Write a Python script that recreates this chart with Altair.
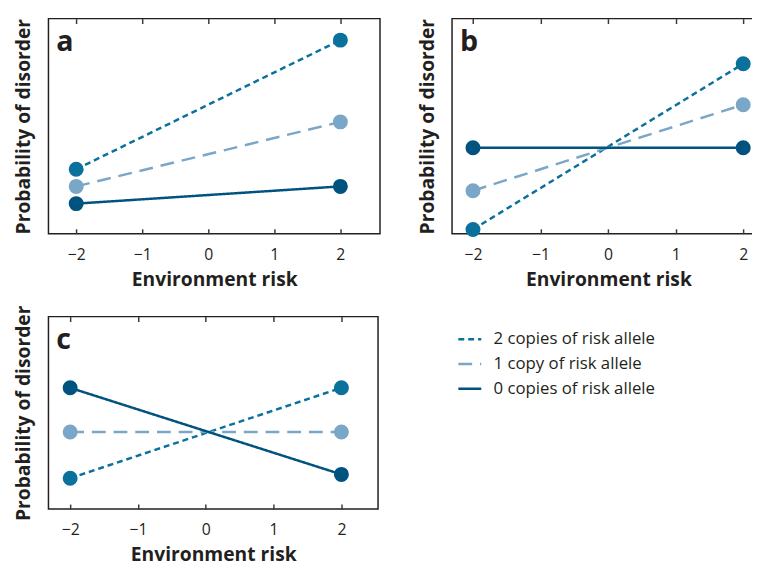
import altair as alt
import pandas as pd

# ---- data ----
alleles = ["2 copies of risk allele", "1 copy of risk allele", "0 copies of risk allele"]
env_risk = [-2, 2]
tick_values = [-2, -1, 0, 1, 2]

a_two = [0.30, 0.90]
a_one = [0.22, 0.52]
a_zero = [0.14, 0.22]

b_two = [0.02, 0.79]
b_one = [0.20, 0.60]
b_zero = [0.40, 0.40]

c_two = [0.16, 0.63]
c_one = [0.40, 0.40]
c_zero = [0.63, 0.18]

colors = ["#0a719c", "#7aa6c8", "#00527f"]
dashes = [[6, 4], [14, 8], [1, 0]]

FONT = "Open Sans"
INK = "#231f20"


def make_df(two, one, zero):
    rows = []
    for name, vals in zip(alleles, [two, one, zero]):
        for xv, yv in zip(env_risk, vals):
            rows.append({"allele": name, "env": xv, "p": yv})
    return pd.DataFrame(rows)


def panel(letter, two, one, zero, xdomain, width, height, show_legend=False):
    df = make_df(two, one, zero)
    xscale = alt.Scale(domain=xdomain, nice=False, zero=False)
    yscale = alt.Scale(domain=[0, 1], nice=False, zero=False)
    if show_legend:
        legend = alt.Legend(
            title=None, orient="none", legendX=414, legendY=10,
            symbolType="stroke", symbolSize=540, symbolStrokeWidth=2.5,
            labelFont=FONT, labelFontSize=17, labelColor=INK, labelLimit=400,
            labelOffset=11, rowPadding=4, padding=0,
        )
    else:
        legend = None
    color = alt.Color("allele:N", sort=alleles,
                      scale=alt.Scale(domain=alleles, range=colors), legend=legend)
    dash = alt.StrokeDash("allele:N", sort=alleles,
                          scale=alt.Scale(domain=alleles, range=dashes), legend=legend)
    lines = alt.Chart(df).mark_line(strokeWidth=2.5).encode(
        x=alt.X("env:Q", scale=xscale,
                axis=alt.Axis(orient="bottom", values=tick_values, offset=-5, tickSize=5,
                              domain=False, grid=False, labelPadding=13,
                              title="Environment risk", titlePadding=8)),
        y=alt.Y("p:Q", scale=yscale,
                axis=alt.Axis(title="Probability of disorder", labels=False, ticks=False,
                              domain=False, grid=False, titlePadding=15)),
        color=color,
        strokeDash=dash,
        detail="allele:N",
    )
    points = alt.Chart(df).mark_circle(size=230, opacity=1).encode(
        x=alt.X("env:Q", scale=xscale,
                axis=alt.Axis(orient="top", values=tick_values, offset=-5, tickSize=5,
                              labels=False, domain=False, grid=False, title=None)),
        y=alt.Y("p:Q", scale=yscale, axis=None),
        color=alt.Color("allele:N", sort=alleles,
                        scale=alt.Scale(domain=alleles, range=colors), legend=None),
    )
    label = alt.Chart(pd.DataFrame({"t": [letter]})).mark_text(
        font=FONT, fontSize=29, fontWeight="bold", color=INK,
        align="left", baseline="alphabetic",
    ).encode(text="t:N", x=alt.value(8), y=alt.value(33))
    return (
        alt.layer(lines, points, label)
        .resolve_axis(x="independent", y="independent")
        .properties(width=width, height=height)
    )


pa = panel("a", a_two, a_one, a_zero, [-2.42, 2.6], 336, 218)
pb = panel("b", b_two, b_one, b_zero, [-2.31, 2.32], 317, 218)
pc = panel("c", c_two, c_one, c_zero, [-2.32, 2.54], 334, 195, show_legend=True)

top = alt.hconcat(pa, pb, spacing=36)
chart = (
    alt.vconcat(top, pc, spacing=14)
    .resolve_scale(color="independent", strokeDash="independent")
    .properties(padding={"left": 5, "top": 5, "right": -14, "bottom": 0})
    .configure_view(stroke=INK, strokeWidth=1.5)
    .configure_axis(
        labelFont=FONT, labelFontSize=16, labelColor=INK,
        titleFont=FONT, titleFontSize=19.5, titleFontWeight="bold", titleColor=INK,
        tickColor="#3a3a3a", tickWidth=1.5,
    )
)

chart.save("out.html", embed_options={"renderer": "svg", "actions": False})
